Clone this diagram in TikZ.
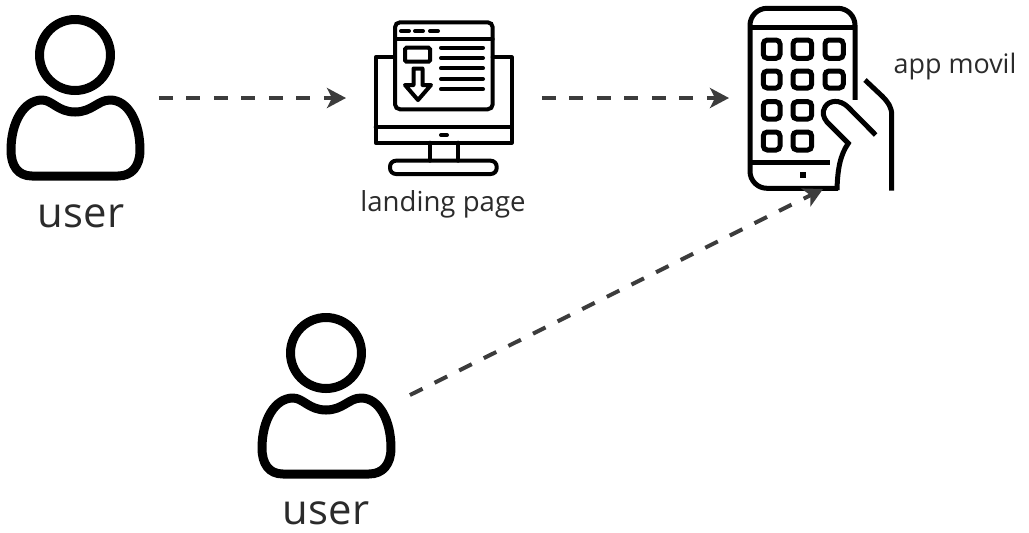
\documentclass[tikz,border=0pt]{standalone}
\usepackage{fontspec}
\setmainfont{Open Sans}
\usetikzlibrary{arrows.meta}
\definecolor{flowgray}{HTML}{3C3C3C}
\definecolor{labelgray}{HTML}{2B2B2B}
\tikzset{
	iconbox/.style={inner sep=0,outer sep=0},
	flow/.style={flowgray,line width=0.08cm,dash pattern=on 0.28cm off 0.27cm,-{Stealth[length=0.38cm,width=0.4cm,inset=0.1cm]}},
	smalltext/.style={text=labelgray,inner sep=0,font=\fontsize{15.7}{18}\selectfont},
	bigtext/.style={text=labelgray,inner sep=0,font=\fontsize{23.8}{28}\selectfont},
	thinline/.style={line width=0.08cm,line cap=round},
	phoneline/.style={line width=0.1cm},
	personline/.style={line width=0.18cm,line join=round}
}
\begin{document}
\begin{tikzpicture}[x=0.02cm,y=-0.02cm]
	\useasboundingbox (0,0) rectangle (1029,532);
	\node[iconbox,minimum width=2.76cm,minimum height=3.32cm] (userA) at (76,98) {};
	\node[iconbox,minimum width=2.76cm,minimum height=3.32cm] (userB) at (327,396) {};
	\node[iconbox,minimum width=2.76cm,minimum height=3.12cm] (landing) at (444,98) {};
	\node[iconbox,minimum width=2.92cm,minimum height=3.7cm] (phone) at (820,98) {};
	\coordinate (startB) at (410,395);
	\coordinate (tipB) at (823,189);
	\node[bigtext] (userAlabel) at (81,216) {user};
	\node[bigtext] (userBlabel) at (326,513) {user};
	\node[smalltext] (landinglabel) at (443,204) {landing page};
	\node[smalltext,font=\fontsize{15.3}{18}\selectfont] (phonelabel) at (955,67) {app movil};

	% first user
	\draw[personline] (75,55) circle (35.5*0.02cm);
	\draw[personline] (42,100) .. controls (52,100) and (58,112) .. (75,112) .. controls (92,112) and (98,100) .. (110,100) .. controls (128,100) and (140,122) .. (140,150) .. controls (140,166) and (132,176) .. (118,176) to (32,176) .. controls (18,176) and (11,166) .. (11,150) .. controls (11,122) and (24,100) .. (42,100) -- cycle;

	% second user
	\begin{scope}[shift={(251,298)}]
		\draw[personline] (75,55) circle (35.5*0.02cm);
		\draw[personline] (42,100) .. controls (52,100) and (58,112) .. (75,112) .. controls (92,112) and (98,100) .. (110,100) .. controls (128,100) and (140,122) .. (140,150) .. controls (140,166) and (132,176) .. (118,176) to (32,176) .. controls (18,176) and (11,166) .. (11,150) .. controls (11,122) and (24,100) .. (42,100) -- cycle;
	\end{scope}

	% landing page
	\draw[thinline,rounded corners=0.1cm] (395,22.3) rectangle (492.7,109.3);
	\draw[thinline] (395,39.3) to (492.7,39.3);
	\draw[thinline] (401,31) to (409,31);
	\draw[thinline] (415,31) to (423,31);
	\draw[thinline] (430,31) to (438,31);
	\draw[thinline,rounded corners=0.03cm] (405,47.7) rectangle (430,61.7);
	\draw[thinline] (441,47.7) to (483,47.7);
	\draw[thinline] (441,58) to (483,58);
	\draw[thinline] (441,68.3) to (483,68.3);
	\draw[thinline] (441,79) to (483,79);
	\draw[thinline] (441,89.3) to (483,89.3);
	\draw[thinline,line join=round] (413.5,68.5) to (422.5,68.5) to (422.5,85) to (431,85) to (418,100) to (405,85) to (413.5,85) -- cycle;
	\draw[thinline,line join=round] (395,57.3) to (375.7,57.3) to (375.7,142.7) to (511.7,142.7) to (511.7,57.3) to (492.7,57.3);
	\draw[thinline] (375.7,127.3) to (511.7,127.3);
	\draw[thinline] (441,135) to (447,135);
	\draw[thinline] (430,142.7) to (430,160.7);
	\draw[thinline] (458.3,142.7) to (458.3,160.7);
	\draw[thinline,rounded corners=0.12cm] (390,160.7) rectangle (496.7,174);

	% phone
	\draw[phoneline,rounded corners=0.34cm] (855,108) to (855,8.3) to (750,8.3) to (750,188.3) to (838,188.3);
	\draw[phoneline] (750,27.3) to (855,27.3);
	\draw[phoneline] (752,162.7) to (830,162.7);
	\fill (799.7,172) rectangle (805.7,178);
	\draw[phoneline,rounded corners=0.08cm] (763.3,40) rectangle (780,58.3);
	\draw[phoneline,rounded corners=0.08cm] (793,40) rectangle (811.7,58.3);
	\draw[phoneline,rounded corners=0.08cm] (825,40) rectangle (843.3,58.3);
	\draw[phoneline,rounded corners=0.08cm] (763.3,71) rectangle (780,88);
	\draw[phoneline,rounded corners=0.08cm] (793,71) rectangle (811.7,88);
	\draw[phoneline,rounded corners=0.08cm] (825,71) rectangle (843.3,88);
	\draw[phoneline,rounded corners=0.08cm] (763.3,101.7) rectangle (780,119);
	\draw[phoneline,rounded corners=0.08cm] (793,101.7) rectangle (811.7,119);
	\draw[phoneline,rounded corners=0.08cm] (763.3,132) rectangle (780,150);
	\draw[phoneline,rounded corners=0.08cm] (793,132) rectangle (811.7,150);
	\fill[white] (849,100) to (858,100) to (858,122) to (849,114) -- cycle;
	\draw[phoneline] (875.7,135) to (848.3,107.3) .. controls (840,99) and (829,100) .. (825,107) .. controls (822,112) and (823,117) .. (827,122) to (848.3,143.3) .. controls (840,155) and (837.5,170) .. (837,190);
	\draw[phoneline] (865,80) to (882,96) .. controls (888,102) and (891.7,107) .. (891.7,115) to (891.7,190.7);

	% connectors
	\draw[flow,shorten <=0.28cm,shorten >=0.58cm] (userA.east) to (landing.west);
	\draw[flow,shorten <=0.58cm,shorten >=0.36cm] (landing.east) to (phone.west);
	\draw[flow] (startB) to (tipB);
\end{tikzpicture}
\end{document}
